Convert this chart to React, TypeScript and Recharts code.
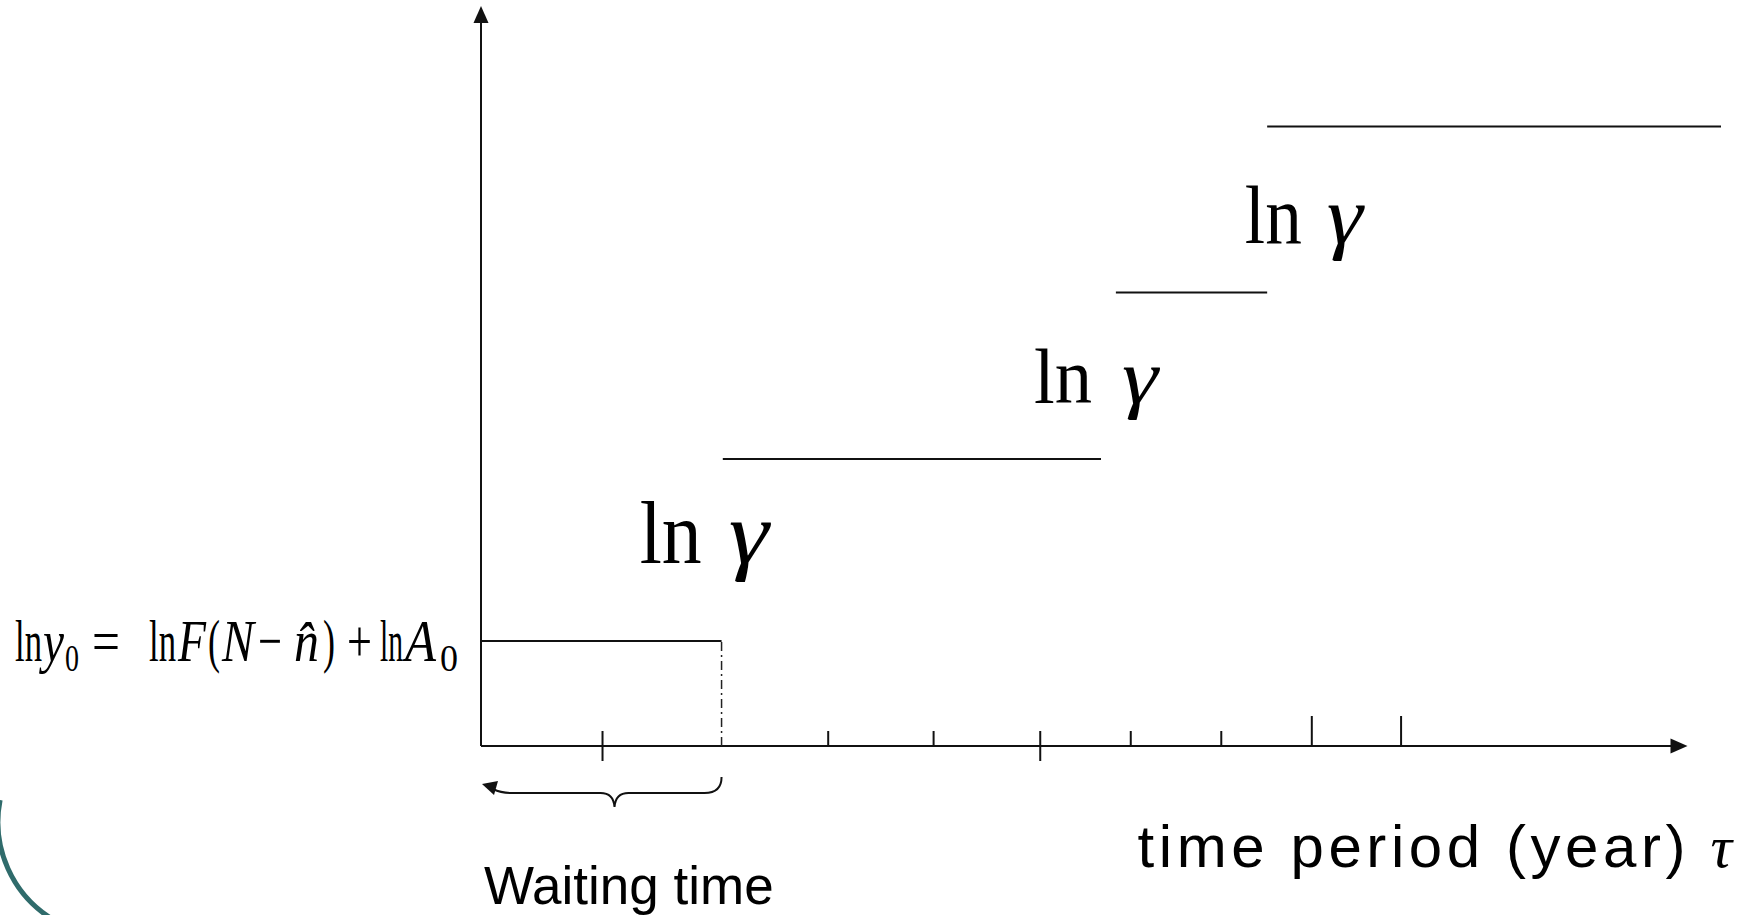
import React from "react";
import { LineChart, Line, XAxis, YAxis, ReferenceLine, ReferenceDot } from "recharts";

const W = 1758;
const H = 915;

const SERIF = "'Liberation Serif', 'Times New Roman', serif";
const SANS = "'Liberation Sans', Arial, sans-serif";
const INK = "#111";

// ln y level per growth phase: initial level, then one ln γ jump each step
const stepLevels = [14.2, 38.8, 61.3, 83.7];
const stepStarts = [0, 19.5, 51.2, 63.4];
const stepEnds = [19.4, 50.0, 63.4, 100];

// tick marks along the time axis
const shortTicks = [28.0, 36.5, 52.4, 59.7];
const crossTicks = [9.8, 45.1];
const tallTicks = [67.0, 74.2];

const waitingEnd = stepEnds[0];
const axisXEnd = 97.3;
const axisYEnd = 100;

// "ln γ" annotations: anchor (left edge / baseline) in chart units
const jumpAnchorX = [12.8, 44.6, 61.6];
const jumpAnchorY = [24.7, 46.4, 68.0];
// glyph layout per annotation, in px
const jumpFont = [88, 78, 82];
const jumpLnWidth = [62, 58, 57];
const jumpGammaGap = [89, 88, 82];
const jumpGammaWidth = [40, 36, 36];

// pieces of the initial-level formula: text, left offset, target width (px),
// advance width in em (Times metrics), style
const formulaPieces = [
  { t: "ln", x: 0, w: 27, em: 0.778 },
  { t: "y", x: 28, w: 21, em: 0.444, it: true },
  { t: "0", x: 50, w: 14, em: 0.5, sub: true },
  { t: "=", x: 77, w: 28, em: 0.564 },
  { t: "ln", x: 134, w: 27, em: 0.778 },
  { t: "F", x: 163, w: 28, em: 0.611, it: true },
  { t: "(", x: 193, w: 12, em: 0.333 },
  { t: "N", x: 207, w: 32, em: 0.667, it: true },
  { t: "\u2212", x: 243, w: 24, em: 0.564 },
  { t: "n\u0302", x: 279, w: 25, em: 0.5, it: true },
  { t: ")", x: 308, w: 12, em: 0.333 },
  { t: "+", x: 332, w: 25, em: 0.564 },
  { t: "ln", x: 365, w: 23, em: 0.778 },
  { t: "A", x: 390, w: 31, em: 0.611, it: true },
  { t: "0", x: 425, w: 18, em: 0.5, sub: true },
];

const stepData = stepLevels.map((level, i) => [
  { x: stepStarts[i], y: level },
  { x: stepEnds[i], y: level },
]);

const waitingData = [
  { x: waitingEnd, y: 0 },
  { x: waitingEnd, y: stepLevels[0] },
];

const arrowY = (p: any) => {
  const x = p.x1;
  const bottom = Math.max(p.y1, p.y2);
  const top = Math.min(p.y1, p.y2);
  return (
    <g>
      <line x1={x} y1={bottom} x2={x} y2={top + 10} stroke={INK} strokeWidth={2} />
      <polygon points={`${x},${top} ${x - 7.5},${top + 17} ${x + 7.5},${top + 17}`} fill={INK} />
    </g>
  );
};

const arrowX = (p: any) => {
  const y = p.y1;
  const left = Math.min(p.x1, p.x2);
  const right = Math.max(p.x1, p.x2);
  return (
    <g>
      <line x1={left} y1={y} x2={right - 10} y2={y} stroke={INK} strokeWidth={2} />
      <polygon points={`${right},${y} ${right - 17},${y - 7.5} ${right - 17},${y + 7.5}`} fill={INK} />
      <text
        x={right - 550}
        y={y + 121}
        fontFamily={SANS}
        fontSize={60}
        textLength={548}
        lengthAdjust="spacing"
        fill="#000"
      >
        time period (year)
      </text>
      <text
        x={right + 23}
        y={y + 121}
        fontFamily={SERIF}
        fontStyle="italic"
        fontSize={60}
        fill="#000"
      >
        τ
      </text>
    </g>
  );
};

// short tick marks drawn at the bottom of each reference line
const tickShape = (up: number, down: number) => (p: any) => {
  const bottom = Math.max(p.y1, p.y2);
  return <line x1={p.x1} y1={bottom - up} x2={p.x1} y2={bottom + down} stroke={INK} strokeWidth={2} />;
};

const braceShape = (p: any) => {
  const l = Math.min(p.x1, p.x2);
  const r = Math.max(p.x1, p.x2);
  const y = p.y1 + 47;
  const mid = l + (r - l) * 0.555;
  const d = [
    `M ${l + 12} ${y - 4}`,
    `Q ${l + 20} ${y} ${l + 30} ${y}`,
    `L ${mid - 14} ${y}`,
    `Q ${mid - 1} ${y} ${mid} ${y + 14}`,
    `Q ${mid + 1} ${y} ${mid + 14} ${y}`,
    `L ${r - 17} ${y}`,
    `Q ${r} ${y} ${r} ${y - 16}`,
  ].join(" ");
  return (
    <g>
      <path d={d} fill="none" stroke={INK} strokeWidth={2} />
      <polygon points={`${l + 1},${y - 9} ${l + 17},${y - 12} ${l + 13},${y + 2}`} fill={INK} />
      <text x={l + 3} y={p.y1 + 158} fontFamily={SANS} fontSize={53} fill="#000">
        Waiting time
      </text>
    </g>
  );
};

const jumpLabel = (i: number) => (p: any) => (
  <g>
    <text
      x={p.cx}
      y={p.cy}
      fontFamily={SERIF}
      fontSize={jumpFont[i]}
      textLength={jumpLnWidth[i]}
      lengthAdjust="spacingAndGlyphs"
      fill="#000"
    >
      ln
    </text>
    <text
      x={p.cx + jumpGammaGap[i]}
      y={p.cy}
      fontFamily={SERIF}
      fontStyle="italic"
      fontSize={jumpFont[i]}
      textLength={jumpGammaWidth[i]}
      lengthAdjust="spacingAndGlyphs"
      fill="#000"
    >
      γ
    </text>
  </g>
);

// formula sits to the left of the y axis, baseline just below the initial level;
// each piece is squeezed horizontally to its slot
const formulaLabel = (p: any) => {
  const left = p.cx - 466;
  const base = p.cy + 20;
  return (
    <g>
      {formulaPieces.map((f, i) => {
        const size = f.sub ? 38 : 60;
        const sx = Math.min(1, f.w / (f.em * size));
        return (
          <text
            key={i}
            transform={`translate(${left + f.x},${f.sub ? base + 10 : base}) scale(${sx},1)`}
            x={0}
            y={0}
            fontFamily={SERIF}
            fontStyle={f.it ? "italic" : "normal"}
            fontSize={size}
            fill="#000"
          >
            {f.t}
          </text>
        );
      })}
    </g>
  );
};

export default function App() {
  return (
    <div style={{ position: "absolute", left: 0, top: 0, width: W, height: H, background: "#fff" }}>
      <LineChart width={W} height={H} margin={{ top: 6, right: 37, bottom: 169, left: 481 }}>
        <XAxis type="number" dataKey="x" domain={[0, 100]} hide allowDataOverflow />
        <YAxis type="number" dataKey="y" domain={[0, 100]} hide allowDataOverflow />

        <ReferenceLine segment={[{ x: 0, y: 0 }, { x: 0, y: axisYEnd }]} shape={arrowY} />
        <ReferenceLine segment={[{ x: 0, y: 0 }, { x: axisXEnd, y: 0 }]} shape={arrowX} />
        <ReferenceLine segment={[{ x: 0, y: 0 }, { x: waitingEnd, y: 0 }]} shape={braceShape} />

        {shortTicks.map((t) => (
          <ReferenceLine key={`s${t}`} x={t} shape={tickShape(15, 0)} />
        ))}
        {crossTicks.map((t) => (
          <ReferenceLine key={`c${t}`} x={t} shape={tickShape(15, 15)} />
        ))}
        {tallTicks.map((t) => (
          <ReferenceLine key={`t${t}`} x={t} shape={tickShape(30, 0)} />
        ))}

        <Line
          data={waitingData}
          dataKey="y"
          stroke="#222"
          strokeWidth={1.5}
          strokeDasharray="9 4 2 4"
          dot={false}
          activeDot={false}
          isAnimationActive={false}
        />
        {stepData.map((d, i) => (
          <Line
            key={i}
            data={d}
            dataKey="y"
            stroke={INK}
            strokeWidth={2}
            dot={false}
            activeDot={false}
            isAnimationActive={false}
          />
        ))}

        <ReferenceDot x={0} y={stepLevels[0]} r={0} shape={formulaLabel} />
        {jumpAnchorX.map((x, i) => (
          <ReferenceDot key={i} x={x} y={jumpAnchorY[i]} r={0} shape={jumpLabel(i)} />
        ))}
      </LineChart>
      <svg
        width={W}
        height={H}
        style={{ position: "absolute", left: 0, top: 0, pointerEvents: "none" }}
      >
        <path d="M 0.1 800 A 114 114 0 0 0 53.8 920" fill="none" stroke="#2f6b6b" strokeWidth={5} />
      </svg>
    </div>
  );
}
